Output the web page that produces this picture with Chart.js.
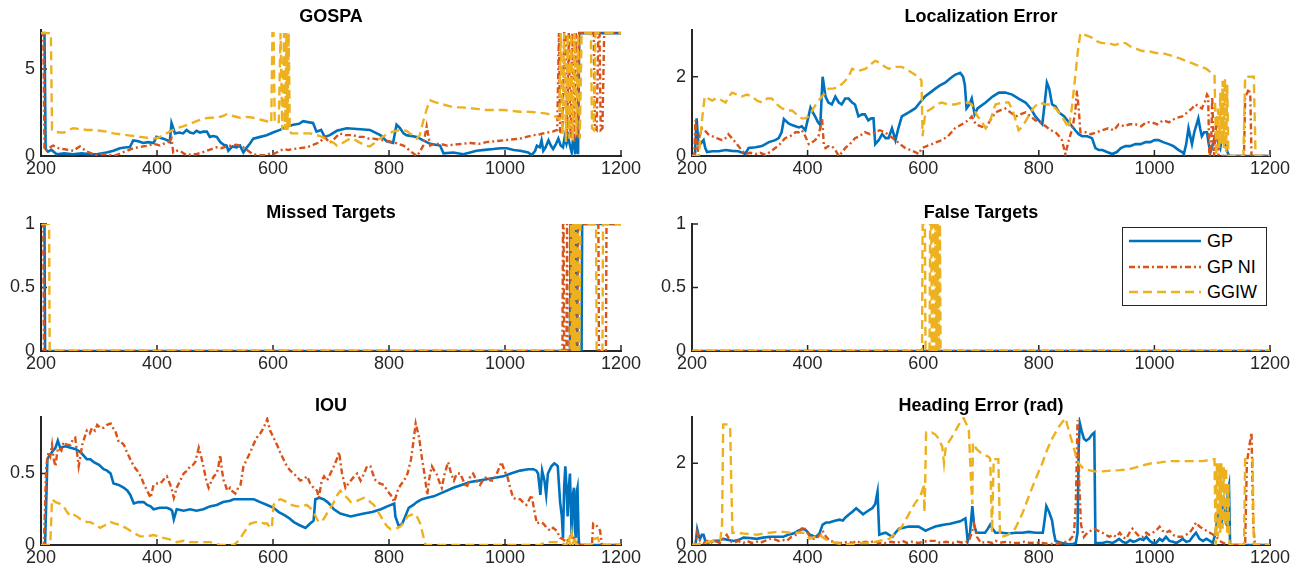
<!DOCTYPE html>
<html lang="en">
<head>
<meta charset="UTF-8" />
<title>Tracking metrics</title>
<script src="https://cdn.jsdelivr.net/npm/chart.js"></script>
<style>
  body { margin:0; background:#fff; font-family:'Liberation Sans', Arial, sans-serif; }
  #fig { position:relative; width:1304px; height:575px; overflow:hidden; background:#fff; }
  #fig canvas { position:absolute; }
  .ttl { position:absolute; font-weight:bold; font-size:18px; line-height:18px; color:#000; white-space:nowrap; transform:translateX(-50%); }
  .legend { position:absolute; left:1122px; top:227px; width:143px; height:77px; border:1px solid #262626; background:#fff; }
  .legend svg { position:absolute; left:0; top:0; }
  .legend span { position:absolute; left:84px; font-size:18px; line-height:18px; color:#000; }
</style>
</head>
<body>
<div id="fig"></div>

<script>
// ---- data ----
const seriesNames = ['GP', 'GP NI', 'GGIW'];
const xTicks = [200, 400, 600, 800, 1000, 1200];

// GOSPA
const gospaGpX = [200,206,208,212,218,227,240,255,270,285,296,313,325,336,348,353,359,368,376,385,394,399,405,411,418,422,425,431,438,445,451,457,463,468,474,480,486,491,497,503,509,515,520,523,530,537,543,549,555,560,566,578,589,600,612,624,635,645,652,660,669,675,683,689,698,710,727,745,767,785,796,807,813,819,825,830,848,859,871,888,894,911,928,940,951,965,980,992,1003,1015,1026,1040,1046,1052,1055,1060,1063,1066,1070,1075,1079,1083,1088,1092,1096,1100,1103,1106,1109,1112,1115,1118,1121,1124,1126,1128,1200];
const gospaGpY = [7.07,7.07,0.4,0.25,0.35,0.1,0.15,0.1,0.15,0.1,0.1,0.2,0.3,0.45,0.5,0.5,0.9,0.85,0.75,0.8,0.75,1.1,1.05,1.0,0.9,0.8,1.9,1.3,1.35,1.3,1.5,1.35,1.3,1.45,1.35,1.4,1.4,1.1,1.15,1.1,0.8,0.65,0.6,0.3,0.55,0.5,0.6,0.2,0.5,0.7,1.0,1.1,1.2,1.35,1.5,1.7,1.8,1.85,2.0,1.95,1.9,1.4,1.5,1.1,1.2,1.45,1.6,1.55,1.5,1.2,0.85,0.75,1.8,1.6,1.3,1.2,1.1,0.9,0.7,0.6,0.15,0.2,0.1,0.2,0.3,0.35,0.4,0.45,0.45,0.35,0.3,0.2,0.05,0.3,0.6,0.5,0.9,0.3,0.5,0.9,0.6,0.4,0.7,1.0,0.6,0.5,1.1,0.7,1.1,0.6,0.2,1.2,0.1,1.3,0.1,7.07,7.07];
const gospaNiX = [200,204,206,210,216,221,230,238,248,256,262,267,273,279,287,296,305,313,322,330,340,348,359,368,376,385,394,400,405,411,417,422,425,428,434,440,446,451,460,468,477,486,494,503,511,520,528,537,543,549,557,566,578,589,595,600,609,618,626,635,646,658,670,681,689,693,698,706,715,725,738,748,756,765,773,782,790,799,807,816,825,831,836,842,848,854,859,865,871,878,888,900,911,925,940,955,968,983,997,1011,1026,1037,1049,1060,1072,1082,1090,1093,1095,1099,1102,1105,1107,1110,1113,1116,1119,1122,1125,1128,1153,1155,1158,1161,1163,1165,1168,1171,1200];
const gospaNiY = [7.07,7.07,0.3,0.35,0.5,0.6,0.45,0.4,0.35,0.3,0.45,0.55,0.4,0.25,0.15,0.05,0.1,0.1,0.05,0.05,0.2,0.3,0.45,0.5,0.55,0.6,0.7,0.65,0.6,0.7,0.75,0.85,1.0,0.2,0.3,0.3,0.15,0.05,0.1,0.1,0.2,0.3,0.4,0.5,0.45,0.55,0.6,0.65,0.6,0.5,0.3,0.1,0.05,0.05,0.15,0.1,0.25,0.4,0.35,0.4,0.45,0.5,0.65,0.8,1.1,0.95,0.75,1.0,1.3,1.2,1.2,1.1,1.1,1.0,1.0,0.95,0.9,0.85,0.8,0.7,0.6,0.45,0.3,0.15,0.0,0.3,0.6,1.7,0.6,0.7,0.7,0.6,0.65,0.7,0.75,0.7,0.8,0.85,0.9,0.95,1.0,1.1,1.2,1.25,1.35,1.4,1.5,7.07,1.4,1.3,7.07,7.07,1.2,7.07,1.0,7.07,0.8,7.07,1.0,7.07,7.07,1.6,1.5,7.07,7.07,1.5,1.6,7.07,7.07];
const gospaGgiwX = [200,217,219,224,232,240,248,256,268,279,290,302,314,325,337,348,360,371,383,394,402,411,422,434,445,457,468,480,491,503,514,520,531,543,555,566,578,589,597,599,601,603,610,613,616,619,621,623,625,627,629,632,646,664,675,681,693,705,710,720,730,738,748,760,767,775,784,796,807,820,830,840,848,853,859,866,871,879,895,911,925,940,955,968,983,997,1011,1026,1040,1055,1070,1083,1090,1094,1096,1099,1102,1105,1108,1111,1114,1117,1120,1123,1126,1129,1132,1148,1150,1153,1156,1200];
const gospaGgiwY = [7.07,7.07,1.5,1.4,1.35,1.35,1.5,1.6,1.55,1.5,1.5,1.45,1.4,1.3,1.25,1.2,1.15,1.1,1.05,1.0,1.05,1.2,1.4,1.6,1.7,1.85,2.0,2.15,2.2,2.2,2.3,2.4,2.3,2.2,2.25,2.2,2.1,2.0,1.9,7.07,7.07,1.9,1.95,7.07,1.5,7.07,1.5,7.07,1.5,7.07,1.4,1.3,1.3,1.3,1.2,1.15,0.95,0.75,0.6,0.75,0.95,1.0,0.8,0.6,0.55,0.75,1.0,1.25,1.4,1.5,1.45,1.2,1.0,1.2,2.0,2.8,3.2,3.1,2.95,2.8,2.8,2.75,2.7,2.65,2.65,2.65,2.6,2.55,2.55,2.5,2.45,2.35,2.2,2.1,7.07,1.2,7.07,0.8,7.07,1.0,7.07,0.9,7.07,1.2,7.07,1.0,7.07,7.07,1.6,1.5,7.07,7.07];

// Localization Error
const locGpX = [200,205,208,211,214,217,220,223,226,235,246,258,269,280,288,292,298,310,321,333,344,350,355,359,367,373,379,385,390,396,400,405,409,413,418,422,426,431,436,442,448,454,459,465,471,477,482,488,494,499,505,510,514,517,523,529,535,540,546,552,557,563,575,586,597,603,612,621,629,638,646,655,664,669,672,675,680,684,689,694,708,720,731,742,754,765,777,786,794,800,806,810,814,818,823,829,835,844,852,863,869,875,884,892,898,904,910,918,927,935,942,950,958,967,976,985,993,1000,1007,1015,1025,1033,1042,1048,1051,1055,1059,1062,1065,1069,1073,1076,1079,1082,1086,1091,1094,1097,1101,1105,1109,1114,1117,1120,1124,1129,1200];
const locGpY = [0,0,0.95,0.3,0.3,0.35,0.4,0.2,0.1,0.12,0.12,0.15,0.13,0.12,0.08,0.05,0.2,0.22,0.25,0.35,0.4,0.45,0.6,0.93,0.82,0.78,0.75,0.72,0.75,0.65,0.9,1.22,1.1,1.0,0.85,0.78,2.0,1.5,1.35,1.3,1.5,1.35,1.3,1.45,1.45,1.35,1.3,1.0,1.05,1.05,0.9,0.95,0.95,0.3,0.4,0.55,0.45,0.45,0.7,0.4,0.7,1.0,1.1,1.2,1.4,1.5,1.6,1.7,1.78,1.85,1.95,2.05,2.1,2.0,1.8,1.2,1.3,1.45,1.05,1.2,1.35,1.5,1.6,1.6,1.55,1.45,1.35,1.2,1.0,0.9,0.8,1.3,1.85,1.7,1.3,1.25,1.1,1.0,0.85,0.65,0.55,0.5,0.5,0.45,0.2,0.15,0.15,0.1,0.05,0.1,0.2,0.25,0.25,0.3,0.3,0.35,0.35,0.4,0.4,0.35,0.3,0.25,0.15,0.1,0.05,0.3,0.7,0.5,0.3,0.6,0.8,0.95,0.7,0.5,0.6,0.6,0.3,0.1,0.3,0.5,0.4,0.2,0.5,0.4,0.2,0,0];
const locNiX = [200,204,206,208,210,213,217,222,228,235,243,252,258,263,269,275,283,292,301,310,318,327,335,344,352,361,370,379,385,390,396,402,408,413,419,425,428,431,436,442,448,454,460,465,473,482,490,499,508,517,525,534,543,552,560,569,578,586,592,598,606,615,623,632,643,655,667,678,684,691,700,708,716,725,733,742,751,760,768,777,786,794,803,812,820,829,835,840,846,852,858,863,866,869,872,881,890,900,909,920,930,938,948,957,967,977,986,996,1005,1015,1025,1036,1048,1057,1065,1071,1077,1082,1087,1091,1093,1095,1098,1100,1103,1106,1108,1111,1155,1157,1161,1163,1166,1168,1200];
const locNiY = [0,0,0.9,0.2,0.1,0.5,0.7,0.65,0.55,0.5,0.45,0.4,0.45,0.55,0.45,0.35,0.2,0.05,0.08,0.05,0.08,0.03,0.1,0.2,0.3,0.45,0.5,0.6,0.6,0.65,0.5,0.3,0.35,0.4,0.5,0.95,0.3,0.2,0.25,0.25,0.15,0.0,0.1,0.2,0.3,0.45,0.5,0.6,0.55,0.6,0.65,0.6,0.5,0.4,0.3,0.2,0.15,0.1,0.05,0.2,0.25,0.3,0.35,0.4,0.5,0.7,0.8,0.9,1.0,0.8,0.75,0.7,0.9,1.1,1.15,1.2,1.1,1.0,1.05,1.1,1.0,0.9,0.85,0.75,0.65,0.6,0.5,0.4,0.05,0.4,0.7,1.1,1.65,1.2,0.6,0.6,0.55,0.6,0.65,0.7,0.65,0.8,0.75,0.8,0.8,0.75,0.85,0.85,0.8,0.9,0.85,0.95,1.0,1.1,1.2,1.3,1.25,1.2,1.35,1.55,1.5,0,0.1,1.5,0,0.6,1.0,0,0,1.5,1.6,1.7,1.5,0,0];
const locGgiwX = [200,212,214,218,222,228,235,241,246,252,258,264,269,278,286,295,304,312,321,330,338,347,356,364,373,381,390,396,402,410,419,428,436,445,454,462,471,477,488,500,508,517,525,534,540,552,563,575,586,593,597,599,602,604,609,615,623,632,643,655,667,678,684,689,694,700,708,716,725,736,748,756,765,772,780,790,800,812,820,829,840,852,857,863,868,872,881,890,900,909,920,932,941,950,960,970,979,990,1002,1013,1025,1036,1046,1054,1064,1072,1082,1090,1098,1104,1107,1110,1112,1114,1116,1118,1120,1122,1124,1126,1128,1154,1157,1163,1172,1175,1200];
const locGgiwY = [0,0,0.4,1.0,1.5,1.45,1.4,1.45,1.45,1.4,1.35,1.5,1.6,1.55,1.5,1.55,1.5,1.4,1.35,1.45,1.45,1.3,1.2,1.15,1.15,1.05,0.95,0.95,1.0,1.2,1.4,1.55,1.7,1.7,1.75,1.85,2.0,2.2,2.15,2.2,2.3,2.4,2.35,2.25,2.2,2.25,2.25,2.15,2.05,2.0,1.9,0.5,0.9,1.1,1.15,1.2,1.3,1.35,1.3,1.3,1.35,1.35,1.3,1.15,1.0,0.9,0.7,0.9,1.3,1.35,1.35,1.1,0.65,0.75,0.95,1.2,1.35,1.3,1.3,1.2,1.0,0.7,1.2,2.0,2.7,3.1,3.05,3.0,2.9,2.85,2.85,2.8,2.85,2.85,2.75,2.7,2.65,2.65,2.6,2.6,2.55,2.5,2.45,2.4,2.35,2.3,2.25,2.2,2.1,2.05,0,1.2,0.2,1.6,0.3,1.9,0.2,1.95,0.1,1.8,0,0,2.0,2.0,2.0,0,0];

// Missed Targets
const missGpX = [200,206,207,1112,1113,1115,1116,1121,1122,1124,1125,1132,1133,1200];
const missGpY = [1,1,0,0,1,1,0,0,1,1,0,0,1,1];
const missNiX = [200,204,205,1099,1100,1101,1102,1106,1107,1108,1113,1114,1116,1117,1119,1120,1122,1125,1126,1161,1162,1174,1175,1200];
const missNiY = [1,1,0,0,1,1,0,0,1,0,0,1,1,0,0,1,0,0,1,1,0,0,1,1];
const missGgiwX = [200,214,215,1113,1114,1116,1118,1120,1122,1124,1126,1128,1130,1157,1158,1168,1169,1200];
const missGgiwY = [1,1,0,0,1,0,1,0,1,0,1,0,1,1,0,0,1,1];

// False Targets
const falseGpX = [200,1200];
const falseGpY = [0,0];
const falseNiX = [200,1200];
const falseNiY = [0,0];
const falseGgiwX = [200,598,599,603,604,611,612,614,615,617,619,621,623,625,627,629,630,1200];
const falseGgiwY = [0,0,1,1,0,0,1,1,0,1,0,1,0,1,0,1,0,0];

// IOU
const iouGpX = [200,207,211,215,219,225,229,233,242,251,260,268,279,285,291,300,308,314,320,325,334,343,349,354,360,368,377,383,389,394,405,417,423,426,429,434,446,457,468,480,491,503,514,526,532,550,567,578,590,601,610,619,627,636,645,656,664,670,673,680,687,694,699,705,716,725,734,745,757,771,786,797,809,811,817,823,828,834,842,848,857,866,877,894,911,925,940,955,968,983,997,1010,1026,1040,1049,1054,1057,1061,1064,1068,1071,1074,1080,1085,1089,1091,1095,1098,1100,1102,1104,1106,1108,1110,1112,1115,1117,1119,1121,1122,1124,1125,1127,1128,1200];
const iouGpY = [0,0,0.6,0.63,0.65,0.68,0.73,0.68,0.69,0.68,0.67,0.65,0.6,0.6,0.58,0.56,0.53,0.52,0.5,0.43,0.42,0.4,0.38,0.35,0.29,0.3,0.3,0.28,0.27,0.25,0.26,0.26,0.25,0.24,0.18,0.25,0.24,0.25,0.24,0.25,0.27,0.28,0.3,0.31,0.32,0.32,0.32,0.3,0.28,0.26,0.23,0.21,0.19,0.16,0.14,0.12,0.15,0.17,0.32,0.33,0.32,0.3,0.28,0.25,0.22,0.21,0.2,0.21,0.22,0.23,0.25,0.27,0.29,0.2,0.13,0.15,0.2,0.26,0.28,0.3,0.32,0.33,0.34,0.37,0.4,0.42,0.44,0.45,0.46,0.47,0.48,0.5,0.52,0.53,0.53,0.52,0.5,0.35,0.52,0.45,0.35,0.5,0.55,0.57,0.56,0.55,0.3,0.2,0.05,0.4,0.55,0.4,0.2,0.4,0.5,0.05,0.35,0.4,0.1,0.05,0.38,0.4,0.05,0,0];
const iouNiX = [200,205,209,213,216,219,222,225,228,230,235,239,245,251,255,259,262,265,268,271,275,279,284,288,293,297,302,308,314,320,324,328,334,338,343,348,354,360,366,372,377,383,389,394,400,406,412,417,423,426,429,434,440,446,452,457,462,466,472,476,480,485,489,494,498,503,506,509,512,515,518,521,526,529,535,540,544,549,555,561,566,572,578,584,590,595,601,607,612,618,624,630,635,641,647,653,659,664,670,676,679,684,688,693,699,705,710,714,719,725,730,734,740,745,751,757,762,768,772,777,784,791,797,803,809,815,820,826,832,838,842,846,849,852,857,861,866,870,874,878,882,886,891,896,902,907,912,917,923,928,934,940,945,951,957,963,970,975,980,986,991,994,999,1004,1009,1014,1020,1026,1031,1037,1042,1046,1050,1055,1060,1066,1072,1078,1083,1089,1095,1100,1106,1112,1118,1124,1129,1150,1152,1157,1161,1164,1167,1200];
const iouNiY = [0,0,0.55,0.65,0.62,0.7,0.6,0.55,0.65,0.68,0.66,0.72,0.7,0.7,0.74,0.75,0.65,0.55,0.62,0.7,0.75,0.8,0.78,0.82,0.8,0.84,0.82,0.82,0.84,0.85,0.82,0.8,0.72,0.72,0.7,0.65,0.6,0.55,0.52,0.48,0.43,0.38,0.33,0.42,0.43,0.43,0.46,0.48,0.42,0.38,0.33,0.4,0.45,0.5,0.52,0.55,0.56,0.58,0.68,0.62,0.55,0.45,0.4,0.45,0.48,0.5,0.55,0.63,0.52,0.45,0.42,0.38,0.4,0.38,0.36,0.4,0.42,0.55,0.6,0.65,0.7,0.75,0.78,0.82,0.88,0.8,0.75,0.7,0.65,0.6,0.55,0.52,0.5,0.48,0.45,0.46,0.48,0.43,0.4,0.38,0.33,0.45,0.48,0.45,0.5,0.55,0.6,0.65,0.5,0.4,0.43,0.45,0.48,0.5,0.45,0.5,0.55,0.55,0.5,0.45,0.43,0.42,0.38,0.35,0.3,0.38,0.42,0.45,0.5,0.6,0.72,0.85,0.8,0.75,0.6,0.5,0.35,0.48,0.55,0.52,0.5,0.45,0.4,0.5,0.58,0.5,0.45,0.5,0.5,0.45,0.4,0.48,0.5,0.45,0.42,0.46,0.48,0.45,0.45,0.5,0.55,0.58,0.52,0.48,0.4,0.33,0.32,0.32,0.3,0.28,0.32,0.35,0.25,0.15,0.16,0.15,0.12,0.1,0.12,0.1,0.05,0.04,0.02,0.06,0.05,0.02,0,0,0.15,0.14,0.12,0.1,0,0];
const iouGgiwX = [200,216,219,225,232,239,245,251,257,262,268,274,280,285,294,302,311,320,328,337,346,354,362,371,382,394,403,411,422,434,446,457,469,480,492,509,520,532,538,544,552,561,570,578,585,590,595,598,601,607,613,619,624,632,641,650,658,664,670,676,679,683,687,693,699,705,711,716,722,728,734,740,746,751,757,763,768,774,780,786,791,797,803,809,815,820,826,832,838,843,848,854,858,863,1060,1070,1090,1100,1106,1110,1112,1115,1117,1120,1123,1150,1153,1160,1164,1200];
const iouGgiwY = [0,0,0.32,0.3,0.29,0.27,0.23,0.2,0.21,0.2,0.18,0.17,0.16,0.16,0.14,0.12,0.14,0.16,0.15,0.14,0.12,0.1,0.08,0.06,0.06,0.07,0.06,0.05,0.04,0.02,0.03,0.02,0.02,0.02,0.02,0.0,0.0,0.0,0.02,0.05,0.1,0.15,0.16,0.16,0.15,0.15,0.12,0.12,0.28,0.31,0.32,0.31,0.3,0.28,0.27,0.27,0.28,0.26,0.23,0.18,0.16,0.17,0.18,0.22,0.26,0.3,0.35,0.38,0.35,0.33,0.3,0.3,0.31,0.32,0.33,0.32,0.3,0.28,0.24,0.2,0.16,0.13,0.11,0.11,0.12,0.13,0.16,0.2,0.21,0.22,0.2,0.15,0.08,0.0,0.0,0.02,0.02,0.01,0.0,0.06,0.0,0.08,0.0,0.06,0.0,0.0,0.04,0.05,0.0,0.0];

// Heading Error (rad)
const headGpX = [200,206,209,212,214,217,220,223,226,232,237,245,254,263,272,280,289,300,312,323,335,346,358,366,375,384,392,398,404,410,415,421,426,432,438,444,449,455,461,466,472,478,484,488,492,496,501,506,512,517,521,524,530,535,541,547,552,558,566,575,584,592,598,604,612,621,630,638,647,655,664,673,677,681,685,688,692,700,707,712,716,720,725,736,748,760,771,783,794,802,807,810,813,818,823,826,829,840,852,860,864,867,869,871,874,878,882,887,892,896,898,904,910,918,928,934,939,945,951,958,963,968,975,981,986,992,997,1003,1009,1014,1020,1026,1032,1038,1044,1049,1055,1061,1066,1072,1078,1084,1090,1096,1101,1106,1110,1113,1116,1119,1122,1125,1127,1129,1131,1200];
const headGpY = [0,0,0.38,0.2,0.15,0.25,0.25,0.1,0.05,0.08,0.1,0.1,0.15,0.12,0.1,0.12,0.18,0.17,0.15,0.18,0.2,0.2,0.2,0.25,0.28,0.35,0.4,0.35,0.25,0.22,0.2,0.3,0.5,0.55,0.55,0.58,0.6,0.62,0.6,0.68,0.75,0.82,0.9,0.85,0.8,0.75,0.8,0.85,0.9,1.0,1.3,0.25,0.28,0.3,0.25,0.2,0.3,0.4,0.42,0.45,0.45,0.45,0.4,0.35,0.4,0.45,0.48,0.5,0.52,0.55,0.58,0.65,0.1,0.3,0.95,0.5,0.3,0.3,0.3,0.4,0.5,0.4,0.3,0.3,0.28,0.3,0.3,0.32,0.3,0.3,0.3,0.6,0.95,0.8,0.6,0.3,0.1,0.05,0.02,0.03,0.05,0.3,2.4,2.98,2.8,2.6,2.55,2.6,2.7,2.75,0.05,0.05,0.05,0.08,0.05,0.1,0.15,0.08,0.05,0.12,0.08,0.1,0.15,0.12,0.2,0.1,0.05,0.05,0.15,0.1,0.2,0.1,0.08,0.05,0.1,0.15,0.08,0.1,0.2,0.3,0.15,0.1,0.15,0.1,0.05,0.3,0.8,0.9,0.5,1.2,0.6,0.5,1.3,1.45,0,0];
const headNiX = [200,206,209,212,214,220,226,232,240,248,254,260,266,272,280,289,295,303,312,318,326,335,341,350,358,364,372,380,387,392,398,404,410,415,421,426,432,438,446,452,461,470,478,484,492,500,507,515,522,530,535,545,555,564,572,580,592,600,610,621,630,640,650,660,670,679,684,688,693,700,710,720,725,735,745,755,765,775,785,795,806,815,829,840,852,858,861,864,867,870,873,878,884,890,896,902,910,916,922,928,934,940,945,951,957,962,968,974,980,986,991,997,1003,1009,1014,1020,1026,1032,1038,1044,1049,1055,1061,1066,1072,1078,1084,1090,1096,1102,1107,1113,1119,1125,1130,1157,1160,1164,1168,1171,1174,1200];
const headNiY = [0,0,0.3,0.15,0.1,0.05,0.1,0.05,0.1,0.05,0.15,0.25,0.1,0.05,0.1,0.05,0.1,0.05,0.08,0.05,0.1,0.15,0.15,0.1,0.12,0.1,0.2,0.25,0.35,0.45,0.35,0.2,0.15,0.15,0.25,0.35,0.2,0.1,0.08,0.05,0.05,0.08,0.05,0.1,0.05,0.08,0.05,0.1,0.05,0.03,0.05,0.08,0.05,0.1,0.05,0.08,0.05,0.08,0.1,0.1,0.05,0.08,0.05,0.08,0.05,0.1,0.3,0.5,0.2,0.05,0.08,0.05,0.1,0.06,0.08,0.05,0.05,0.08,0.05,0.06,0.05,0.03,0.02,0.05,0.1,0.2,0.3,1.0,3.05,1.5,0.5,0.2,0.3,0.35,0.4,0.35,0.3,0.25,0.2,0.25,0.2,0.3,0.2,0.15,0.3,0.4,0.3,0.2,0.2,0.3,0.25,0.3,0.35,0.45,0.35,0.3,0.35,0.25,0.2,0.2,0.2,0.25,0.3,0.4,0.55,0.45,0.4,0.35,0.3,0.25,0.2,0.1,0.05,0.02,0,0,2.0,2.4,2.75,0.5,0,0];
const headGgiwX = [200,210,220,230,240,249,252,254,262,266,268,270,280,289,300,312,323,335,346,358,370,381,392,398,404,412,421,430,438,449,458,466,478,489,500,507,518,530,541,552,563,575,585,595,600,601,602,603,605,615,621,627,633,636,639,648,656,664,670,675,679,683,685,686,692,700,707,714,716,719,722,725,728,730,733,736,747,759,771,783,794,806,815,823,835,846,852,858,864,869,875,881,895,910,925,940,956,968,980,995,1010,1026,1045,1065,1084,1095,1104,1106,1108,1110,1112,1114,1116,1118,1120,1122,1124,1126,1128,1130,1155,1157,1170,1172,1200];
const headGgiwY = [0,0.02,0.05,0.08,0.1,0.12,0.5,2.95,2.95,2.9,1.5,0.3,0.3,0.28,0.27,0.25,0.28,0.3,0.32,0.32,0.3,0.3,0.3,0.25,0.15,0.2,0.25,0.15,0.1,0.05,0.03,0.02,0.03,0.05,0.05,0.05,0.08,0.12,0.15,0.28,0.45,0.75,1.0,1.2,1.4,1.5,0.8,1.2,2.75,2.75,2.7,2.6,2.4,2.0,2.4,2.6,2.8,3.0,3.1,2.95,2.8,1.5,1.0,2.5,2.35,2.25,2.2,2.15,2.1,0.3,2.1,2.1,2.1,2.1,0.2,0.2,0.25,0.4,0.75,1.2,1.6,2.0,2.35,2.6,2.9,3.1,2.8,2.5,2.2,2.0,1.9,1.85,1.8,1.8,1.82,1.83,1.85,1.9,1.95,2.0,2.02,2.05,2.05,2.05,2.05,2.08,2.1,0,2.0,0.2,2.0,0.3,2.0,0.4,1.9,0.5,1.9,0.3,1.5,0,0,2.1,2.1,0,0];

// ---- drawing ----
Chart.defaults.font.family = "'Liberation Sans', Arial, Helvetica, sans-serif";
Chart.defaults.font.size = 18;
Chart.defaults.color = '#262626';

const lineStyles = [
  { borderColor: '#0072BD', borderWidth: 2.6, borderDash: [], order: 3 },
  { borderColor: '#D95319', borderWidth: 2.4, borderDash: [6, 3, 2, 3], order: 2 },
  { borderColor: '#EDB120', borderWidth: 2.4, borderDash: [9, 5], order: 1 }
];

function pts(xs, ys) { return xs.map((x, i) => ({ x: x, y: ys[i] })); }

// Matlab style ticks pointing into the axes
const innerTicks = {
  id: 'innerTicks',
  beforeDatasetsDraw(chart) {
    const { ctx, chartArea: a, scales: { x, y } } = chart;
    ctx.save();
    ctx.strokeStyle = '#262626';
    ctx.lineWidth = 1.5;
    ctx.beginPath();
    x.ticks.forEach(t => { const px = x.getPixelForValue(t.value); ctx.moveTo(px, a.bottom); ctx.lineTo(px, a.bottom - 6); });
    y.ticks.forEach(t => { const py = y.getPixelForValue(t.value); ctx.moveTo(a.left, py); ctx.lineTo(a.left + 6, py); });
    ctx.stroke();
    ctx.restore();
  }
};

const fig = document.getElementById('fig');
const cols = {
  L: { left: 0, width: 650, axisW: 41, padR: 29, mid: 331 },
  R: { left: 640, width: 664, axisW: 52, padR: 34, mid: 981 }
};
const rows = [
  { top: 30, bottom: 156, title: 7 },
  { top: 224, bottom: 351, title: 203 },
  { top: 417, bottom: 545, title: 396 }
];
const padTop = 18, xAxisH = 32;

function panel(title, col, row, yMax, yTicks, sets) {
  const c = cols[col], r = rows[row];
  const cv = document.createElement('canvas');
  const h = r.bottom - r.top + padTop + xAxisH;
  cv.width = c.width; cv.height = h;
  cv.style.left = c.left + 'px'; cv.style.top = (r.top - padTop) + 'px';
  cv.style.width = c.width + 'px'; cv.style.height = h + 'px';
  fig.appendChild(cv);

  const t = document.createElement('div');
  t.className = 'ttl'; t.textContent = title;
  t.style.left = c.mid + 'px'; t.style.top = r.title + 'px';
  fig.appendChild(t);

  new Chart(cv, {
    type: 'line',
    data: {
      datasets: sets.map((s, i) => Object.assign({
        label: seriesNames[i], data: pts(s[0], s[1]),
        pointRadius: 0, tension: 0, fill: false
      }, lineStyles[i]))
    },
    options: {
      responsive: false, animation: false, devicePixelRatio: 1,
      layout: { padding: { top: padTop, right: c.padR, left: 0, bottom: 0 } },
      plugins: { legend: { display: false }, tooltip: { enabled: false } },
      scales: {
        x: {
          type: 'linear', min: 200, max: 1200,
          grid: { display: false, drawTicks: false },
          border: { display: true, color: '#262626', width: 2 },
          ticks: { padding: 2, maxRotation: 0, autoSkip: false, callback: v => String(v) },
          afterBuildTicks: s => { s.ticks = xTicks.map(v => ({ value: v })); },
          afterFit: s => { s.height = xAxisH; }
        },
        y: {
          type: 'linear', min: 0, max: yMax,
          grid: { display: false, drawTicks: false },
          border: { display: true, color: '#262626', width: 2 },
          ticks: { padding: 6, callback: v => String(v) },
          afterBuildTicks: s => { s.ticks = yTicks.map(v => ({ value: v })); },
          afterFit: s => { s.width = c.axisW; }
        }
      }
    },
    plugins: [innerTicks]
  });
}

panel('GOSPA', 'L', 0, 7.25, [0, 5],
  [[gospaGpX, gospaGpY], [gospaNiX, gospaNiY], [gospaGgiwX, gospaGgiwY]]);
panel('Localization Error', 'R', 0, 3.18, [0, 2],
  [[locGpX, locGpY], [locNiX, locNiY], [locGgiwX, locGgiwY]]);
panel('Missed Targets', 'L', 1, 1, [0, 0.5, 1],
  [[missGpX, missGpY], [missNiX, missNiY], [missGgiwX, missGgiwY]]);
panel('False Targets', 'R', 1, 1, [0, 0.5, 1],
  [[falseGpX, falseGpY], [falseNiX, falseNiY], [falseGgiwX, falseGgiwY]]);
panel('IOU', 'L', 2, 0.895, [0, 0.5],
  [[iouGpX, iouGpY], [iouNiX, iouNiY], [iouGgiwX, iouGgiwY]]);
panel('Heading Error (rad)', 'R', 2, 3.13, [0, 2],
  [[headGpX, headGpY], [headNiX, headNiY], [headGgiwX, headGgiwY]]);

// legend box inside the False Targets axes
const lg = document.createElement('div');
lg.className = 'legend';
lg.innerHTML =
  '<svg width="80" height="77">' +
  '<line x1="6" y1="13" x2="78" y2="13" stroke="#0072BD" stroke-width="2.6"/>' +
  '<line x1="6" y1="39" x2="78" y2="39" stroke="#D95319" stroke-width="2.4" stroke-dasharray="6 3 2 3"/>' +
  '<line x1="6" y1="64" x2="78" y2="64" stroke="#EDB120" stroke-width="2.4" stroke-dasharray="9 5"/>' +
  '</svg>' +
  seriesNames.map((n, i) => '<span style="top:' + [4, 30, 55][i] + 'px">' + n + '</span>').join('');
fig.appendChild(lg);
</script>
</body>
</html>
